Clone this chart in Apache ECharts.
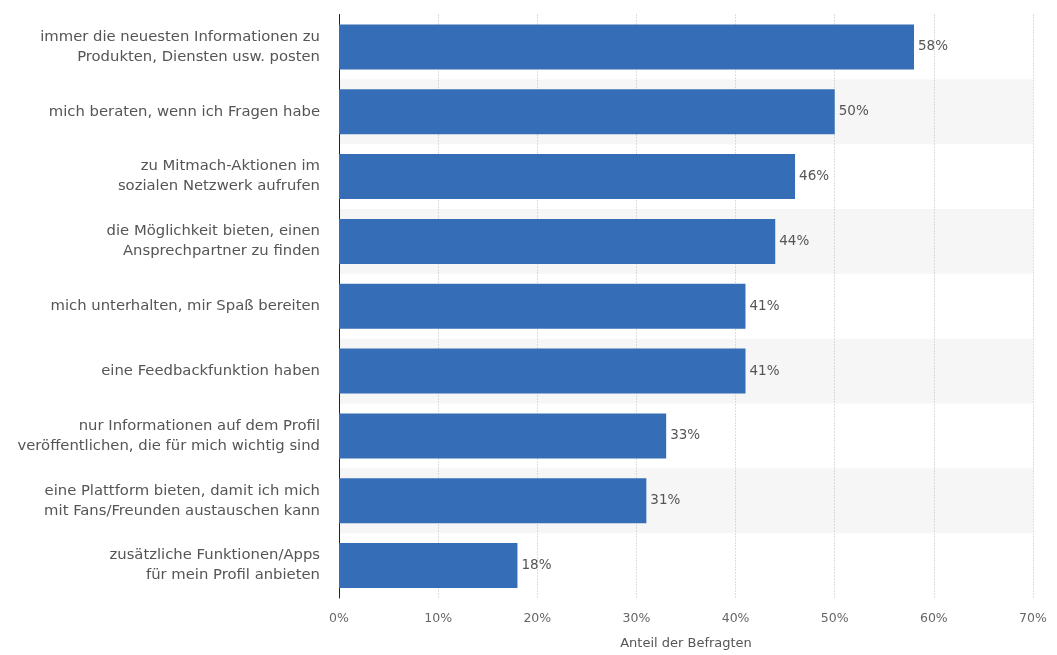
<!DOCTYPE html>
<html>
<head>
<meta charset="utf-8">
<script src="https://cdn.jsdelivr.net/npm/echarts@6/dist/echarts.min.js"></script>
<style>
html,body{margin:0;padding:0;background:#fff;}
#chart{width:1057px;height:655px;}
</style>
</head>
<body>
<div id="chart"></div>
<script>
const categories = [
  "immer die neuesten Informationen zu\nProdukten, Diensten usw. posten",
  "mich beraten, wenn ich Fragen habe",
  "zu Mitmach-Aktionen im\nsozialen Netzwerk aufrufen",
  "die Möglichkeit bieten, einen\nAnsprechpartner zu finden",
  "mich unterhalten, mir Spaß bereiten",
  "eine Feedbackfunktion haben",
  "nur Informationen auf dem Profil\nveröffentlichen, die für mich wichtig sind",
  "eine Plattform bieten, damit ich mich\nmit Fans/Freunden austauschen kann",
  "zusätzliche Funktionen/Apps\nfür mein Profil anbieten"
];
const values = [58, 50, 46, 44, 41, 41, 33, 31, 18];
const xAxisName = "Anteil der Befragten";

const chart = echarts.init(document.getElementById('chart'));
const font = "DejaVu Sans";
chart.setOption({
  animation: false,
  textStyle: { fontFamily: font },
  grid: { left: 339, right: 24, top: 14.5, bottom: 55.5, containLabel: false },
  xAxis: {
    type: 'value', min: 0, max: 70, interval: 10,
    axisLine: { show: false }, axisTick: { show: false },
    axisLabel: { formatter: '{value}%', color: '#666', fontSize: 12.5, margin: 14, fontFamily: font },
    splitLine: { show: true, lineStyle: { color: '#bdbdbd', type: [1, 2], width: 1 } },
    name: xAxisName, nameLocation: 'middle', nameGap: 39,
    nameTextStyle: { color: '#555', fontSize: 13, fontFamily: font }
  },
  yAxis: {
    type: 'category', data: categories, inverse: true,
    axisLine: { show: true, lineStyle: { color: '#222', width: 1 } },
    axisTick: { show: false },
    axisLabel: { color: '#555', fontSize: 14.8, lineHeight: 20, margin: 19, align: 'right', fontFamily: font },
    splitArea: { show: true, areaStyle: { color: ['rgba(255,255,255,0)', '#f6f6f6'] } },
    splitLine: { show: false }
  },
  series: [{
    type: 'bar', data: values, barWidth: 45,
    itemStyle: { color: '#356eb6' },
    label: { show: true, position: 'right', distance: 4, formatter: '{c}%', color: '#555', fontSize: 13.5, fontFamily: font }
  }]
});
</script>
</body>
</html>
